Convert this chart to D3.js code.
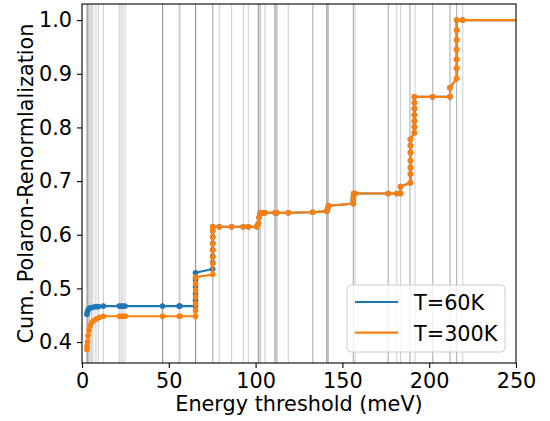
<!DOCTYPE html>
<html>
<head>
<meta charset="utf-8">
<script src="https://cdn.jsdelivr.net/npm/d3@7"></script>
<style>
  body { margin: 0; background: #fff; }
  text { font-family: "DejaVu Sans", sans-serif; }
</style>
</head>
<body>
<div id="chart"></div>
<script>
// phonon mode energies (meV), repeated entries = overlapping modes
const modeEnergies = [
  2.7, 3.1, 3.1, 3.5, 4.0, 4.6, 5.5, 6.3, 8.0, 9.4, 12.3,
  21.5, 22.5, 23.5, 24.8,
  46.4, 46.4, 46.4, 46.4, 55.9, 56.5, 65.4, 65.4, 65.4, 65.4,
  75.3, 75.3, 79.1, 86.2, 92.9, 95.8,
  101.6, 101.6, 101.6, 102.6, 102.6, 105.4,
  111.2, 111.2, 111.2, 112.3, 112.3, 118.8,
  132.9, 132.9, 141.0, 141.0, 141.0, 141.8, 141.8,
  156.3, 156.3, 157.3, 176.4, 176.4, 181.3, 183.5,
  188.9, 188.9, 191.8, 202.0, 202.0, 212.0, 212.0, 215.8, 215.8, 219.3
];

// T = 60K, low-energy part
const energy60 = [2.8, 3.1, 3.5, 4.2, 5.0, 6.3, 8.0, 9.4, 12.3, 21.5, 22.5, 23.5, 24.8,
  46.4, 55.9, 56.5, 65.4, 65.4, 65.4, 65.4, 65.4, 65.4, 75.3,
  75.3, 75.3, 75.3, 75.3, 75.3, 75.3];
const renorm60 = [0.452, 0.456, 0.460, 0.463, 0.464, 0.465, 0.466, 0.466, 0.467, 0.467, 0.467, 0.467, 0.467,
  0.467, 0.467, 0.467, 0.467, 0.478, 0.490, 0.503, 0.516, 0.529, 0.536,
  0.548, 0.560, 0.572, 0.584, 0.596, 0.607];

// T = 300K, low-energy part
const energy300 = [2.8, 2.9, 3.2, 3.5, 4.0, 4.6, 5.5, 6.8, 8.3, 10.0, 12.3, 21.5, 22.5, 23.5, 24.8,
  46.4, 55.9, 56.5, 65.4, 65.4, 65.4, 65.4, 65.4, 65.4, 65.4, 75.3,
  75.3, 75.3, 75.3, 75.3, 75.3, 75.3];
const renorm300 = [0.386, 0.392, 0.400, 0.412, 0.422, 0.430, 0.436, 0.440, 0.443, 0.446, 0.448, 0.448, 0.448, 0.448, 0.448,
  0.448, 0.448, 0.448, 0.448, 0.459, 0.471, 0.484, 0.496, 0.509, 0.521, 0.526,
  0.546, 0.558, 0.571, 0.583, 0.596, 0.608];

// above ~75 meV both temperatures coincide
const energyHigh = [75.3, 79.1, 86.2, 92.9, 95.8, 100.6, 101.6, 102.0, 102.4, 103.0, 104.4, 105.4,
  111.2, 112.2, 118.8, 132.9, 141.0, 141.5, 142.0, 156.3, 156.3, 156.3, 156.5, 157.3,
  176.4, 181.3, 183.5, 183.5, 189.2, 189.2, 189.2, 189.2, 189.2, 189.2, 189.2,
  191.5, 191.5, 191.5, 191.5, 191.5, 191.5, 191.5, 202.0, 212.0, 212.0,
  215.8, 215.8, 215.8, 215.8, 215.8, 215.8, 215.8, 219.3, 300];
const renormHigh = [0.615, 0.615, 0.615, 0.615, 0.615, 0.615, 0.621, 0.632, 0.639, 0.641, 0.641, 0.641,
  0.641, 0.641, 0.641, 0.642, 0.644, 0.649, 0.654, 0.658, 0.664, 0.670, 0.677, 0.677,
  0.677, 0.677, 0.677, 0.690, 0.697, 0.713, 0.725, 0.738, 0.753, 0.766, 0.778,
  0.790, 0.801, 0.812, 0.823, 0.835, 0.846, 0.857, 0.857, 0.857, 0.874,
  0.891, 0.910, 0.927, 0.945, 0.963, 0.981, 1.000, 1.000, 1.000];

const xTicks = [0, 50, 100, 150, 200, 250];
const yTicks = [0.4, 0.5, 0.6, 0.7, 0.8, 0.9, 1.0];

const series = [
  { name: "T=60K", color: "#1f77b4", e: energy60.concat(energyHigh), v: renorm60.concat(renormHigh) },
  { name: "T=300K", color: "#ff7f0e", e: energy300.concat(energyHigh), v: renorm300.concat(renormHigh) }
];

const width = 550, height = 421;
const margin = { top: 4, right: 34, bottom: 58, left: 82 };
const fontSize = "20.8px";

const svg = d3.select("#chart").append("svg")
  .attr("width", width)
  .attr("height", height);

const x = d3.scaleLinear().domain([0, 250]).range([margin.left, width - margin.right]);
const y = d3.scaleLinear().domain([0.361, 1.030]).range([height - margin.bottom, margin.top]);

svg.append("clipPath").attr("id", "plot-clip")
  .append("rect")
  .attr("x", margin.left).attr("y", margin.top)
  .attr("width", x.range()[1] - margin.left)
  .attr("height", y.range()[0] - margin.top);

const plot = svg.append("g").attr("clip-path", "url(#plot-clip)");

// mode lines
plot.selectAll(".mode")
  .data(modeEnergies)
  .enter().append("line")
  .attr("x1", d => x(d)).attr("x2", d => x(d))
  .attr("y1", margin.top).attr("y2", y.range()[0])
  .attr("stroke", "#808080")
  .attr("stroke-opacity", 0.36)
  .attr("stroke-width", 1.1);

const line = d3.line().x(d => x(d[0])).y(d => y(d[1]));

series.forEach(s => {
  const pts = s.e.map((e, i) => [e, s.v[i]]);
  plot.append("path")
    .datum(pts)
    .attr("fill", "none")
    .attr("stroke", s.color)
    .attr("stroke-width", 2.1)
    .attr("stroke-linejoin", "round")
    .attr("d", line);
  plot.selectAll(null)
    .data(pts)
    .enter().append("circle")
    .attr("cx", d => x(d[0]))
    .attr("cy", d => y(d[1]))
    .attr("r", 2.8)
    .attr("fill", s.color);
});

// axes
const xAxis = svg.append("g")
  .attr("transform", `translate(0,${y.range()[0]})`)
  .call(d3.axisBottom(x).tickValues(xTicks).tickSize(5).tickPadding(5).tickFormat(d3.format("d")));
const yAxis = svg.append("g")
  .attr("transform", `translate(${margin.left},0)`)
  .call(d3.axisLeft(y).tickValues(yTicks).tickSize(5).tickPadding(5).tickFormat(d3.format(".1f")));

[xAxis, yAxis].forEach(a => {
  a.select(".domain").remove();
  a.selectAll("line").attr("stroke", "#000").attr("stroke-width", 1.1);
  a.selectAll("text").attr("font-size", fontSize).attr("fill", "#000")
    .style("font-family", "'DejaVu Sans', sans-serif");
});

// frame
svg.append("rect")
  .attr("x", margin.left).attr("y", margin.top)
  .attr("width", x.range()[1] - margin.left)
  .attr("height", y.range()[0] - margin.top)
  .attr("fill", "none")
  .attr("stroke", "#000")
  .attr("stroke-width", 1.1);

// axis labels
svg.append("text")
  .attr("x", (x.range()[0] + x.range()[1]) / 2)
  .attr("y", 411)
  .attr("text-anchor", "middle")
  .attr("font-size", fontSize)
  .text("Energy threshold (meV)");

svg.append("text")
  .attr("transform", `translate(33,${(y.range()[0] + y.range()[1]) / 2}) rotate(-90)`)
  .attr("text-anchor", "middle")
  .attr("font-size", fontSize)
  .text("Cum. Polaron-Renormlalization");

// legend
const legend = svg.append("g").attr("transform", "translate(347,285)");
legend.append("rect")
  .attr("width", 158).attr("height", 67)
  .attr("rx", 4)
  .attr("fill", "#fff").attr("fill-opacity", 0.8)
  .attr("stroke", "#cccccc").attr("stroke-width", 1);

series.forEach((s, i) => {
  const row = legend.append("g").attr("transform", `translate(0,${17 + i * 30.6})`);
  row.append("line")
    .attr("x1", 8).attr("x2", 51)
    .attr("stroke", s.color).attr("stroke-width", 2.1);
  row.append("text")
    .attr("x", 67).attr("y", 8)
    .attr("font-size", fontSize)
    .text(s.name);
});
</script>
</body>
</html>
